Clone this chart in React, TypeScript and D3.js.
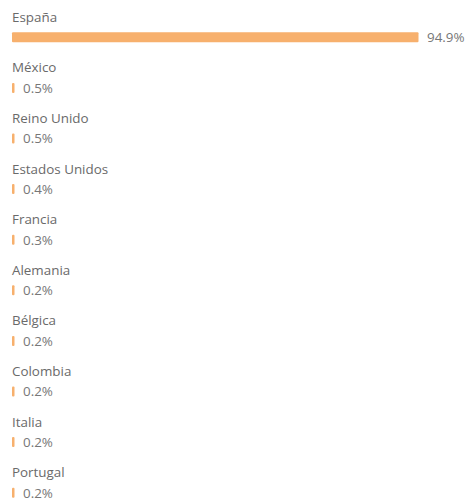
import React from "react";
import * as d3 from "d3";

const countries = ["España", "México", "Reino Unido", "Estados Unidos", "Francia", "Alemania", "Bélgica", "Colombia", "Italia", "Portugal"];
const shares = [94.9, 0.5, 0.5, 0.4, 0.3, 0.2, 0.2, 0.2, 0.2, 0.2];

const W = 468;
const H = 504;

export default function App() {
  const x = d3.scaleLinear().domain([0, d3.max(shares) as number]).range([12, 418.5]);
  const y = d3.scaleBand<string>().domain(countries).range([0, 506]);
  const font = "'Open Sans', sans-serif";
  return (
    <svg width={W} height={H} style={{ position: "absolute", left: 0, top: 0, background: "#fff" }} fontFamily={font}>
      {countries.map((c, i) => {
        const y0 = (y(c) as number) + 21.8;
        const barCy = y0 + 15.5;
        const w = Math.max(2.5, x(shares[i]) - x(0));
        return (
          <g key={c}>
            <text x={12} y={y0} fontSize={13.4} fill="#6a6a6a">{c}</text>
            <rect x={x(0)} y={barCy - 5} width={w} height={10} fill="#F7B06D" rx={1} />
            <text x={x(0) + w + 8.5} y={barCy + 4.8} fontSize={13.4} fill="#777">{shares[i].toFixed(1)}%</text>
          </g>
        );
      })}
    </svg>
  );
}
